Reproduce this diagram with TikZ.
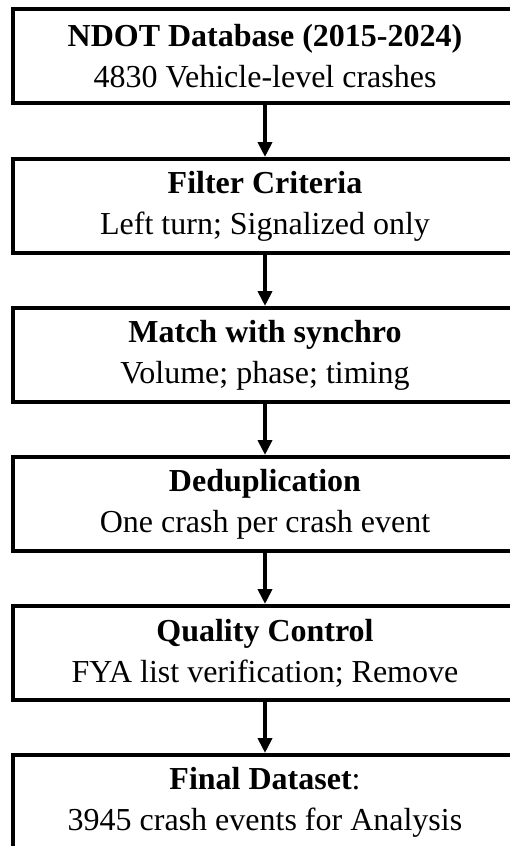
\documentclass[tikz,border=0pt]{standalone}
\usepackage{fontspec}
\setmainfont{Liberation Serif}
\usetikzlibrary{arrows.meta}
\begin{document}
\begin{tikzpicture}[x=1pt,y=-1pt,
  stage/.style={draw=black, line width=4pt, minimum width=504pt, minimum height=94pt,
    align=center, inner sep=0pt, font=\fontsize{32}{41}\selectfont},
  flow/.style={line width=4pt, -{Triangle[width=14pt,length=15pt]}}]
\useasboundingbox (0,0) rectangle (510,846);
\fill[white] (0,0) rectangle (510,846);
\node[stage] (b1) at (265,56)  {\textbf{NDOT Database (2015-2024)}\\4830 Vehicle-level crashes};
\node[stage] (b2) at (265,206) {\textbf{Filter Criteria}\\Left turn; Signalized only};
\node[stage] (b3) at (265,355) {\textbf{Match with synchro}\\Volume; phase; timing};
\node[stage] (b4) at (265,504) {\textbf{Deduplication}\\One crash per crash event};
\node[stage] (b5) at (265,653) {\textbf{Quality Control}\\FYA list verification; Remove};
\node[stage] (b6) at (265,802) {\textbf{Final Dataset}:\\3945 crash events for Analysis};
\draw[flow] (b1) -- (b2);
\draw[flow] (b2) -- (b3);
\draw[flow] (b3) -- (b4);
\draw[flow] (b4) -- (b5);
\draw[flow] (b5) -- (b6);
\end{tikzpicture}
\end{document}
